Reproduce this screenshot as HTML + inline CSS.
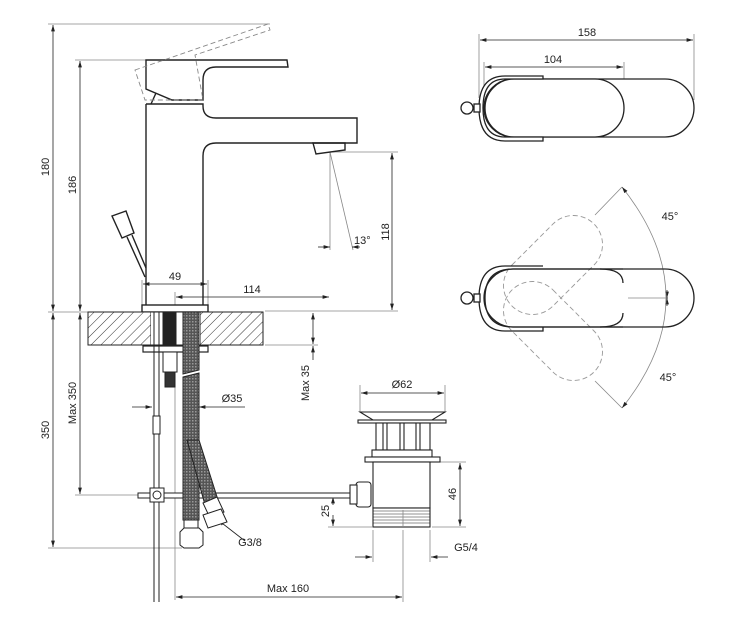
<!DOCTYPE html>
<html><head><meta charset="utf-8"><style>
html,body{margin:0;padding:0;background:#fff;}
svg{display:block;}
text{font-family:"Liberation Sans",sans-serif;font-size:11px;fill:#222;}
</style></head><body>
<svg width="734" height="630" viewBox="0 0 734 630" xmlns="http://www.w3.org/2000/svg">
<defs>
<pattern id="h" width="7" height="7" patternUnits="userSpaceOnUse" patternTransform="rotate(45)">
<rect width="7" height="7" fill="#fff"/><line x1="0" y1="0" x2="0" y2="7" stroke="#333" stroke-width="1"/></pattern>
<pattern id="m" width="3" height="3" patternUnits="userSpaceOnUse">
<rect width="3" height="3" fill="#555"/><rect width="1.5" height="1.5" fill="#999"/></pattern>
<marker id="a" viewBox="0 0 10 6" refX="10" refY="3" markerWidth="8" markerHeight="5" orient="auto-start-reverse"><path d="M0,0L10,3L0,6z" fill="#222"/></marker>
</defs>
<g fill="none" stroke="#888" stroke-width="0.8">
<line x1="48" y1="24" x2="270" y2="24"/>
<line x1="75" y1="60" x2="146" y2="60"/>
<line x1="48" y1="312" x2="88" y2="312"/>
<line x1="265" y1="311" x2="398" y2="311"/>
<line x1="330" y1="152" x2="398" y2="152"/>
<line x1="265" y1="345" x2="318" y2="345"/>
<line x1="75" y1="495" x2="138" y2="495"/>
<line x1="48" y1="548" x2="182" y2="548"/>
<line x1="142" y1="280" x2="142" y2="305"/>
<line x1="208" y1="280" x2="208" y2="305"/>
<line x1="175" y1="292" x2="175" y2="305"/>
<line x1="175" y1="352" x2="175" y2="600"/>
<line x1="330" y1="152" x2="330" y2="250"/>
<line x1="330" y1="152" x2="353" y2="250"/>
<line x1="360" y1="385" x2="360" y2="412"/>
<line x1="445" y1="385" x2="445" y2="412"/>
<line x1="440" y1="462" x2="466" y2="462"/>
<line x1="432" y1="527" x2="466" y2="527"/>
<line x1="328" y1="527" x2="372" y2="527"/>
<line x1="373" y1="530" x2="373" y2="562"/>
<line x1="430" y1="530" x2="430" y2="562"/>
<line x1="403" y1="530" x2="403" y2="602"/>
<line x1="479" y1="34" x2="479" y2="98"/>
<line x1="694" y1="34" x2="694" y2="100"/>
<line x1="624" y1="62" x2="624" y2="95"/>
<line x1="484" y1="62" x2="484" y2="92"/>
<line x1="595" y1="215" x2="622" y2="187"/>
<line x1="595" y1="381" x2="622" y2="408"/>
<line x1="628" y1="298" x2="668" y2="298"/>
</g>
<g stroke="#222" stroke-width="0.8" fill="none" marker-start="url(#a)" marker-end="url(#a)">
<line x1="53" y1="25" x2="53" y2="311"/>
<line x1="80" y1="61" x2="80" y2="311"/>
<line x1="392" y1="153" x2="392" y2="310"/>
<line x1="143" y1="284" x2="207" y2="284"/>
<line x1="176" y1="297" x2="329" y2="297"/>
<line x1="53" y1="313" x2="53" y2="547"/>
<line x1="80" y1="313" x2="80" y2="494"/>
<line x1="313" y1="313" x2="313" y2="344"/>
<line x1="361" y1="393" x2="444" y2="393"/>
<line x1="460" y1="463" x2="460" y2="526"/>
<line x1="176" y1="597" x2="402" y2="597"/>
<line x1="480" y1="40" x2="693" y2="40"/>
<line x1="485" y1="67" x2="623" y2="67"/>
</g>
<g stroke="#222" stroke-width="0.8" fill="none">
<line x1="132" y1="407" x2="152" y2="407" marker-end="url(#a)"/>
<line x1="245" y1="407" x2="199" y2="407" marker-end="url(#a)"/>
<line x1="318" y1="247" x2="330" y2="247" marker-end="url(#a)"/>
<line x1="360" y1="247" x2="352" y2="247" marker-end="url(#a)"/>
<line x1="313" y1="360" x2="313" y2="346" marker-end="url(#a)"/>
<line x1="333" y1="505" x2="333" y2="497" marker-end="url(#a)"/>
<line x1="333" y1="515" x2="333" y2="526" marker-end="url(#a)"/>
<line x1="355" y1="557" x2="372" y2="557" marker-end="url(#a)"/>
<line x1="448" y1="557" x2="431" y2="557" marker-end="url(#a)"/>
<line x1="245" y1="541" x2="218" y2="520" marker-end="url(#a)"/>
<line x1="667" y1="290" x2="667" y2="298" marker-end="url(#a)"/>
<line x1="667" y1="306" x2="667" y2="298" marker-end="url(#a)"/>
<path d="M622,187 Q710,298 622,408" stroke="#888" marker-start="url(#a)" marker-end="url(#a)"/>
</g>
<g stroke="#222" stroke-width="1.4" fill="none">
<path d="M146,60 L287,60 L288,67 L216,67 Q203,67 203,80 L203,100 L172,100 L146,89 Z"/>
<path d="M146,104 L146,305 M203,305 L203,156 Q203,143 216,143 L357,143 L357,118 L216,118 Q203,118 203,106 L203,104 L146,104"/>
<path d="M151,104 L156,93"/>
<path d="M313,143 L345,143 L345,150 L316,154 Z"/>
<rect x="142" y="305" width="66" height="7"/>
<path d="M112,216 L126,211 L134,233 L122,238 Z"/>
<path d="M127,237 L145,277 M132,235 L146,268"/>
</g>
<g stroke="#888" stroke-width="0.9" fill="none" stroke-dasharray="5,3">
<path d="M135,70 L268,24 L270,30 L195,55 L203,100 L145,100 Z"/>
</g>
<rect x="88" y="312" width="63" height="33" fill="url(#h)" stroke="#222"/>
<rect x="200" y="312" width="63" height="33" fill="url(#h)" stroke="#222"/>
<rect x="151" y="312" width="49" height="33" fill="#fff" stroke="none"/>
<line x1="151" y1="312" x2="200" y2="312" stroke="#222"/>
<line x1="151" y1="345" x2="200" y2="345" stroke="#222"/>
<rect x="143" y="346" width="65" height="6" fill="#fff" stroke="#222" stroke-width="1.2"/>
<g stroke="#222" stroke-width="1" fill="#fff">
<line x1="154" y1="312" x2="154" y2="602"/><line x1="159" y1="312" x2="159" y2="602"/>
<rect x="153" y="416" width="7" height="18"/>
<rect x="163" y="312" width="13" height="33" fill="#222"/>
<rect x="163" y="352" width="14" height="20"/>
<rect x="165" y="372" width="10" height="15" fill="#333"/>
<rect x="138" y="493" width="212" height="5"/>
<rect x="150" y="488" width="14" height="14"/>
<circle cx="157" cy="495" r="4"/>
<path d="M183,312 L199,312 L199,370 L183,374 Z" fill="url(#m)"/>
<path d="M183,377 L199,373 L199,520 L183,520 Z" fill="url(#m)"/>
<path d="M187,440 L199,440 L218,500 L205,505 Z" fill="url(#m)"/>
<path d="M203,503 L217,497 L224,512 L210,518 Z"/>
<path d="M203,515 L221,509 L227,522 L208,528 Z"/>
<rect x="184" y="520" width="14" height="10"/>
<path d="M180,532 L184,528 L199,528 L203,532 L203,545 L199,548 L184,548 L180,545 Z"/>
</g>
<g stroke="#222" stroke-width="1.1" fill="#fff">
<path d="M360,412 L445,412 L432,420 L373,420 Z"/>
<rect x="358" y="420" width="88" height="3"/>
<rect x="376" y="423" width="54" height="27"/>
<path d="M383,423v27M387,423v27M400,423v27M404,423v27M416,423v27M420,423v27"/>
<rect x="372" y="450" width="60" height="7"/>
<rect x="365" y="457" width="75" height="5"/>
<rect x="373" y="462" width="57" height="46"/>
<rect x="373" y="508" width="57" height="19"/>
<path d="M373,511h57M373,514h57M373,517h57M373,520h57M373,523h57" stroke-width="0.6"/>
<rect x="356" y="482" width="15" height="25" rx="3"/>
<rect x="350" y="485" width="7" height="19"/>
</g>
<line x1="403" y1="510" x2="403" y2="527" stroke="#888" stroke-width="0.8"/>
<g stroke="#222" stroke-width="1.3" fill="#fff">
<rect x="484" y="79" width="210" height="58" rx="29"/>
<rect x="485" y="79" width="139" height="58" rx="29"/>
<path d="M543,76 L505,76 Q479,76 479,108 Q479,141 505,141 L543,141 L543,137 L505,137 Q483,137 483,108 Q483,79 505,79 L543,79 Z"/>
<rect x="474" y="104" width="6" height="8"/>
<circle cx="467" cy="108" r="6"/>
</g>
<g stroke="#999" stroke-width="0.9" fill="none" stroke-dasharray="5,3">
<g transform="translate(553,265) rotate(-45)"><rect x="-58" y="-29" width="116" height="58" rx="29"/></g>
<g transform="translate(553,331) rotate(45)"><rect x="-58" y="-29" width="116" height="58" rx="29"/></g>
</g>
<g stroke="#222" stroke-width="1.3" fill="none">
<rect x="484" y="269" width="210" height="58" rx="29"/>
<path d="M623,269 L513,269 Q485,269 485,298 Q485,327 513,327 L623,327" />
<path d="M623,283 Q623,269 600,269 M623,313 Q623,327 600,327"/>
<path d="M543,266 L505,266 Q479,266 479,298 Q479,331 505,331 L543,331 L543,327"/>
<rect x="474" y="294" width="6" height="8" fill="#fff"/>
<circle cx="467" cy="298" r="6" fill="#fff"/>
</g>
<text x="175" y="280" text-anchor="middle">49</text>
<text x="252" y="293" text-anchor="middle">114</text>
<text x="354" y="244">13°</text>
<text transform="translate(389,232) rotate(-90)" text-anchor="middle">118</text>
<text transform="translate(49,167) rotate(-90)" text-anchor="middle">180</text>
<text transform="translate(76,185) rotate(-90)" text-anchor="middle">186</text>
<text transform="translate(49,430) rotate(-90)" text-anchor="middle">350</text>
<text transform="translate(76,403) rotate(-90)" text-anchor="middle">Max 350</text>
<text transform="translate(309,383) rotate(-90)" text-anchor="middle">Max 35</text>
<text x="232" y="402" text-anchor="middle">Ø35</text>
<text x="402" y="388" text-anchor="middle">Ø62</text>
<text transform="translate(329,511) rotate(-90)" text-anchor="middle">25</text>
<text transform="translate(456,494) rotate(-90)" text-anchor="middle">46</text>
<text x="250" y="546" text-anchor="middle">G3/8</text>
<text x="466" y="551" text-anchor="middle">G5/4</text>
<text x="288" y="592" text-anchor="middle">Max 160</text>
<text x="587" y="36" text-anchor="middle">158</text>
<text x="553" y="63" text-anchor="middle">104</text>
<text x="670" y="220" text-anchor="middle">45°</text>
<text x="668" y="381" text-anchor="middle">45°</text>
</svg>
</body></html>
